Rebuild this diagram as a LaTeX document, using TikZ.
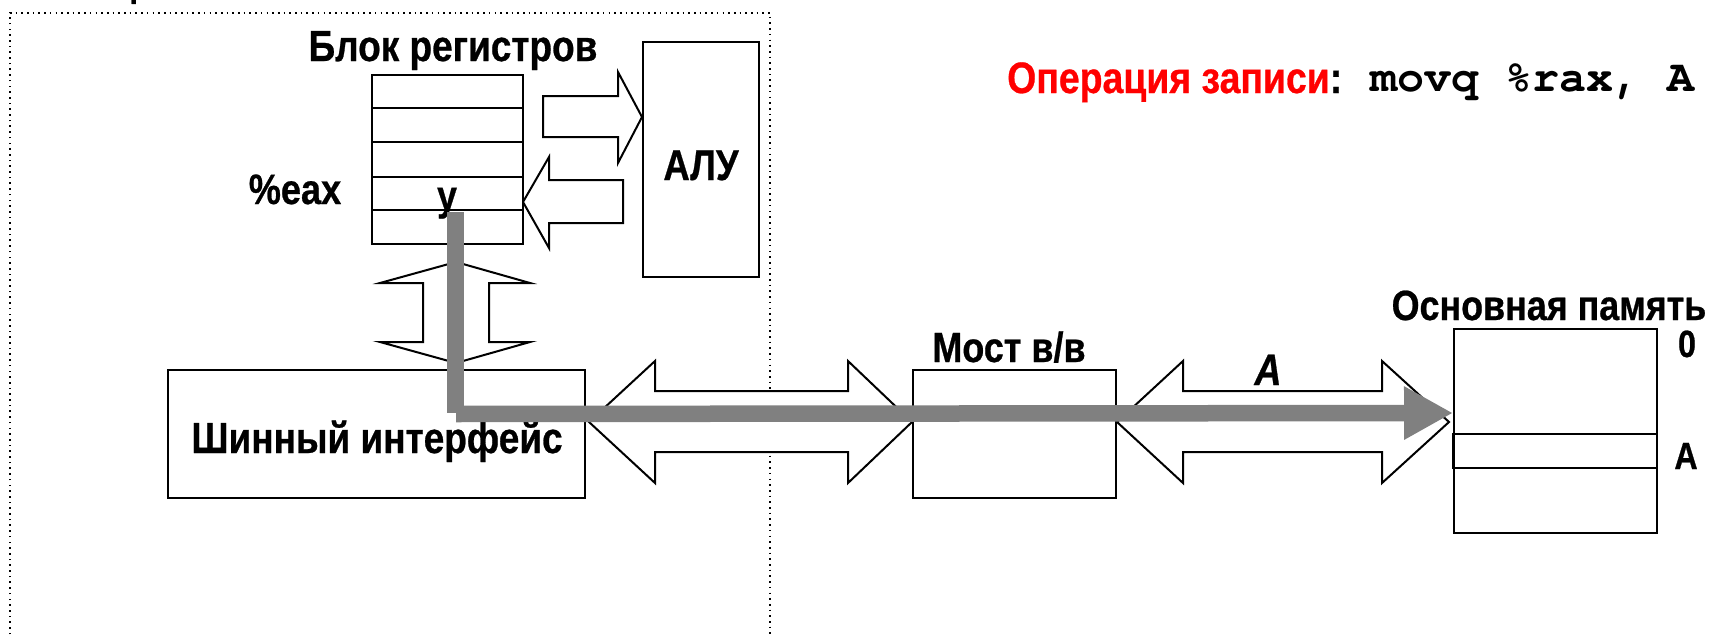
\documentclass[tikz,border=0pt]{standalone}
\usepackage{fontspec}
\setmainfont{Liberation Sans}[FakeStretch=0.85,FakeBold=0.6]
\setmonofont{texgyrecursor}[Extension=.otf,UprightFont=*-regular,BoldFont=*-bold]
\usetikzlibrary{arrows.meta}
\definecolor{busgray}{RGB}{128,128,128}
\definecolor{opred}{RGB}{255,0,0}
\newcommand{\fs}[1]{\fontsize{#1}{#1}\selectfont\bfseries}
\begin{document}
\begin{tikzpicture}[x=1pt,y=-1pt,
  box/.style={draw=black,line width=2.5pt,fill=white,inner sep=0pt,rectangle},
  blockarrow/.style={draw=black,line width=2pt,fill=white,line join=miter},
  lbl/.style={inner sep=0pt,anchor=base},
  busline/.style={draw=busgray,line width=16.5pt,line cap=butt},
  frame/.style={draw=black,line width=1.6pt,dash pattern=on 1.6pt off 4.1pt}]
\useasboundingbox (0,0) rectangle (1712,634);

% processor frame (only its upper part is visible)
\draw[frame] (10,640) -- (10,13) -- (770,13) -- (770,640);
\node[lbl,anchor=base west] (cpu) at (111,-4) {\fs{40}ЦП};

% block arrows between the units
% register file -> ALU
\draw[blockarrow] (543,96) -- (618,96) -- (618,72) -- (642,117) -- (618,163) -- (618,137) -- (543,137) -- cycle;
% ALU -> register file
\draw[blockarrow] (623,180) -- (549,180) -- (549,157) -- (523,202) -- (549,248) -- (549,223) -- (623,223) -- cycle;
% register file <-> bus interface
\draw[blockarrow] (456,262) -- (530,283) -- (489,283) -- (489,342) -- (530,342) -- (456,363)
  -- (380,342) -- (423,342) -- (423,283) -- (380,283) -- cycle;
% bus interface <-> I/O bridge
\draw[blockarrow] (589,422) -- (655,361) -- (655,391) -- (848,391) -- (848,361) -- (912,422)
  -- (848,483) -- (848,452) -- (655,452) -- (655,483) -- cycle;
% I/O bridge <-> main memory
\draw[blockarrow] (1117,422) -- (1183,361) -- (1183,391) -- (1382,391) -- (1382,361) -- (1449,422)
  -- (1382,483) -- (1382,452) -- (1183,452) -- (1183,483) -- cycle;

% register file
\node[box,minimum width=151pt,minimum height=169pt] (regs) at (447.5,159.5) {};
\foreach \yy in {108,142,177,210} \draw[line width=2.5pt] (372,\yy) -- (523,\yy);
\node[lbl] (regtitle) at (453,61) {\fs{43.5}Блок регистров};
\node[lbl] (eax) at (295,204) {\fs{42.5}\%eax};
\node[lbl] (yval) at (447,210) {\fs{42}у};

% ALU
\node[box,minimum width=116pt,minimum height=235pt] (alu) at (701,159.5) {};
\node[lbl] (alutxt) at (701,180) {\fs{43}АЛУ};

% bus interface
\node[box,minimum width=417pt,minimum height=128pt] (bus) at (376.5,434) {};
\node[lbl] (bustxt) at (377,453) {\fs{43.5}Шинный интерфейс};

% I/O bridge
\node[box,minimum width=203pt,minimum height=128pt] (bridge) at (1014.5,434) {};
\node[lbl] (bridgetxt) at (1009,362) {\fs{42.3}Мост в/в};

% main memory
\node[box,minimum width=203pt,minimum height=204pt] (mem) at (1555.5,431) {};
\draw[line width=2.5pt] (1453,434) rectangle (1657,468);
\node[lbl] (memtxt) at (1549,320) {\fs{42.2}Основная память};
\node[lbl] (addr0) at (1687,357) {\fs{38}0};
\node[lbl] (addrA) at (1686,469) {\fs{38}A};
\node[lbl] (busA) at (1268,385) {\fs{44}\itshape A};

% data path of the store: from %eax through the bus to memory
\coordinate (src) at (455.5,212);
\coordinate (bend) at (455.5,413);
\coordinate (bend2) at (456,414);
\coordinate (dst) at (1453,413);
\draw[busline] (src) -- (bend);
\draw[busline,-{Triangle[length=49pt,width=50pt]}] (bend2) -- (dst);

% operation caption
\node[lbl,anchor=base west] (optitle) at (1007,93) {\fs{44}\textcolor{opred}{Операция записи}:};
\node[lbl,anchor=base west] (opcode) at (1370,91) {\fontsize{45}{45}\selectfont\ttfamily\bfseries movq \%rax, A};
\end{tikzpicture}
\end{document}
